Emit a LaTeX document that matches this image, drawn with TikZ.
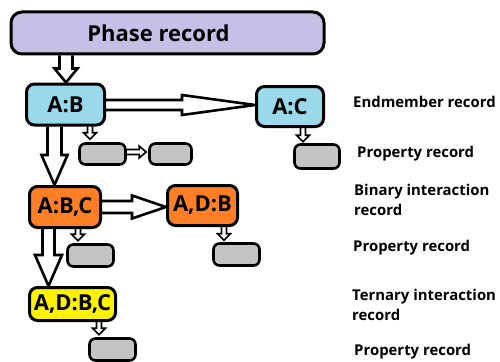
\documentclass[tikz,border=0pt]{standalone}
\usepackage{fontspec}
\setmainfont{Open Sans}
\usetikzlibrary{calc,backgrounds}

\definecolor{lavender}{HTML}{C8BFE7}
\definecolor{skyblue}{HTML}{99D9EA}
\definecolor{paintorange}{HTML}{FF7F27}
\definecolor{paintyellow}{HTML}{FFF200}
\definecolor{lightgrey}{HTML}{C3C3C3}

\tikzset{
  boxfont/.style={font=\fontsize{22}{22}\selectfont\bfseries},
  rec/.style={draw=black, line width=3pt, rounded corners=8pt, inner sep=0pt, boxfont},
  phasebox/.style={rec, fill=lavender, rounded corners=11pt},
  bluebox/.style={rec, fill=skyblue},
  orangebox/.style={rec, fill=paintorange},
  yellowbox/.style={rec, fill=paintyellow},
  greybox/.style={draw=black, line width=2.6pt, rounded corners=6pt, fill=lightgrey, inner sep=0pt},
  bigarrow/.style={draw=black, line width=2.6pt, fill=white, line join=miter},
  smallarrow/.style={draw=black, line width=1.6pt, fill=white, line join=miter},
  legend/.style={anchor=west, inner sep=0pt, align=left,
                 font=\fontsize{14.9}{20}\selectfont\bfseries},
}

% Outlined block arrow from #2 to the tip #3:
% #4 shaft half-width, #5 head half-width, #6 head length
\newcommand\hollowarrow[6][]{%
  \coordinate (ha-s) at (#2);
  \coordinate (ha-e) at (#3);
  \coordinate (ha-h) at ($(ha-e)!#6!(ha-s)$);
  \draw[#1] ($(ha-s)!#4!90:(ha-e)$) -- ($(ha-h)!#4!90:(ha-e)$)
     -- ($(ha-h)!#5!90:(ha-e)$) -- (ha-e) -- ($(ha-h)!#5!-90:(ha-e)$)
     -- ($(ha-h)!#4!-90:(ha-e)$) -- ($(ha-s)!#4!-90:(ha-e)$);
}

\begin{document}
\begin{tikzpicture}[x=1pt, y=-1pt]
\useasboundingbox (0,0) rectangle (500,361);

% record boxes
\node[phasebox, minimum width=313pt, minimum height=42pt,
      label={[xshift=-9pt, boxfont]center:Phase record}]
      (phase) at (167.5,33) {};
\node[bluebox, minimum width=78pt, minimum height=41pt] (ab) at (65.5,104.5) {A:B};
\node[bluebox, minimum width=67pt, minimum height=40pt] (ac) at (290,106.5) {A:C};
\node[orangebox, minimum width=71pt, minimum height=41pt] (abc) at (65,207) {A:B,C};
\node[orangebox, minimum width=70pt, minimum height=40pt] (adb) at (202.5,205.5) {A,D:B};
\node[yellowbox, minimum width=86pt, minimum height=33pt] (adbc) at (72.5,304) {A,D:B,C};

% property records
\node[greybox, minimum width=46pt, minimum height=21pt] (g1) at (102.5,154) {};
\node[greybox, minimum width=42pt, minimum height=21pt] (g2) at (170.5,154) {};
\node[greybox, minimum width=45pt, minimum height=24pt] (g3) at (317,156.5) {};
\node[greybox, minimum width=46pt, minimum height=22pt] (g4) at (90.5,255.5) {};
\node[greybox, minimum width=46pt, minimum height=22pt] (g5) at (236.5,254.5) {};
\node[greybox, minimum width=46pt, minimum height=22pt] (g6) at (112.5,349.5) {};

% legend
\node[legend] (l1) at (353,102) {Endmember record};
\node[legend] (l2) at (357,154) {Property record};
\node[legend] (l3) at (354,200) {Binary interaction\\record};
\node[legend] (l4) at (353,248) {Property record};
\node[legend] (l5) at (352,305) {Ternary interaction\\record};
\node[legend] (l6) at (354,352) {Property record};

\begin{pgfonlayer}{background}
  % hierarchy arrows
  \hollowarrow[bigarrow]{66,0 |- phase.south}{66,0 |- ab.north}{6.5pt}{11.5pt}{14pt}
  \hollowarrow[bigarrow]{ab.east |- 0,105}{ac.west |- 0,105}{5pt}{10pt}{73pt}
  \hollowarrow[bigarrow]{54.5,0 |- ab.south}{54.5,0 |- abc.north}{7pt}{13pt}{30pt}
  \hollowarrow[bigarrow]{abc.east |- 0,207}{adb.west |- 0,207}{6pt}{11.5pt}{34pt}
  \hollowarrow[bigarrow]{48.5,0 |- abc.south}{48.5,0 |- adbc.north}{6pt}{13.5pt}{31pt}
  % property arrows
  \hollowarrow[smallarrow]{90,0 |- ab.south}{$(90,0 |- g1.north)+(0,-3)$}{2.5pt}{6.5pt}{6.5pt}
  \hollowarrow[smallarrow]{g1.east |- 0,152}{$(g2.west |- 0,152)+(-2,0)$}{2.5pt}{6pt}{7pt}
  \hollowarrow[smallarrow]{303,0 |- ac.south}{$(303,0 |- g3.north)+(0,-1.5)$}{2.5pt}{6.5pt}{6.5pt}
  \hollowarrow[smallarrow]{78,0 |- abc.south}{$(78,0 |- g4.north)+(0,-2.5)$}{2.5pt}{6.5pt}{6.5pt}
  \hollowarrow[smallarrow]{224,0 |- adb.south}{$(224,0 |- g5.north)+(0,-2)$}{2.5pt}{6.5pt}{6.5pt}
  \hollowarrow[smallarrow]{99,0 |- adbc.south}{$(99,0 |- g6.north)+(0,-2.5)$}{2.5pt}{6.5pt}{6.5pt}
\end{pgfonlayer}
\end{tikzpicture}
\end{document}
